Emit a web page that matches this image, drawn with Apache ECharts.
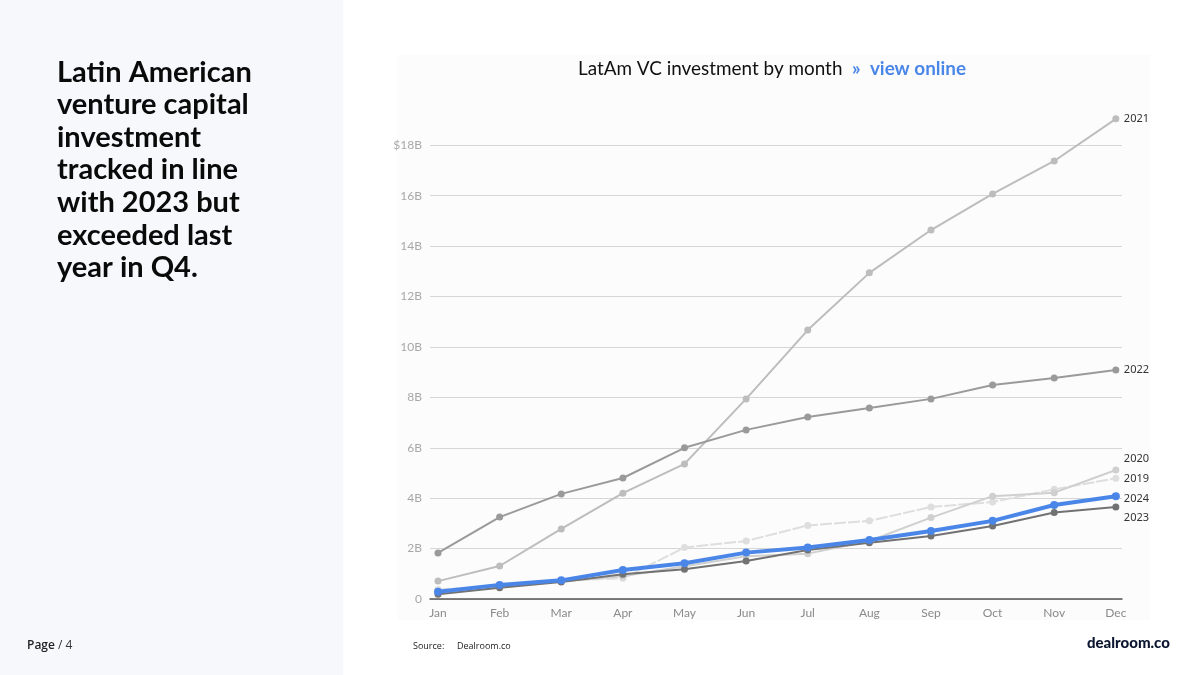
<!DOCTYPE html>
<html>
<head>
<meta charset="utf-8">
<script src="https://cdn.jsdelivr.net/npm/echarts@6/dist/echarts.min.js"></script>
<style>
html,body{margin:0;padding:0;background:#fff;}
#chart{width:1200px;height:675px;}
</style>
</head>
<body>
<div id="chart"></div>
<script>
const months = ['Jan','Feb','Mar','Apr','May','Jun','Jul','Aug','Sep','Oct','Nov','Dec'];
const yTicks = [0,2,4,6,8,10,12,14,16,18];
const v2019 = [0.38,0.50,0.72,0.82,2.04,2.30,2.92,3.10,3.65,3.85,4.35,4.79];
const v2020 = [0.30,0.50,0.70,0.90,1.30,1.70,1.80,2.30,3.23,4.08,4.22,5.12];
const v2021 = [0.71,1.31,2.78,4.20,5.36,7.94,10.67,12.94,14.64,16.07,17.38,19.05];
const v2022 = [1.83,3.25,4.17,4.80,6.00,6.71,7.22,7.58,7.94,8.49,8.77,9.09];
const v2023 = [0.19,0.45,0.67,0.98,1.18,1.51,1.94,2.23,2.50,2.90,3.43,3.65];
const v2024 = [0.29,0.56,0.74,1.15,1.42,1.84,2.04,2.34,2.70,3.10,3.73,4.08];
const headline = ['Latin American','venture capital','investment','tracked in line','with 2023 but','exceeded last','year in Q4.'];

const pts = arr => arr.map((v,i)=>[i,v]);
const axisFont = 'Lato, sans-serif';

function mk(name, data, color, width, sym, z, offset, dash){
  return {
    name, type:'line', data: pts(data), z,
    symbol:'circle', symbolSize: sym,
    itemStyle:{color},
    lineStyle:{color, width, type: dash || 'solid'},
    emphasis:{disabled:true},
    endLabel:{show:true, formatter:'{a}', color:'#333', fontSize:11, fontFamily:'"Noto Sans", sans-serif', distance:8, offset: offset || [0,0]}
  };
}

const chart = echarts.init(document.getElementById('chart'), null, {renderer:'canvas'});
chart.setOption({
  animation:false,
  backgroundColor:'#ffffff',
  graphic:[
    {type:'rect', shape:{x:0,y:0,width:343,height:675}, style:{fill:'#f7f8fc'}, z:-10},
    {type:'rect', shape:{x:398,y:55,width:752,height:565}, style:{fill:'#fcfcfc'}, z:-10},
    {type:'text', left:57, top:56, style:{text: headline.join('\n'), font:'bold 29px Lato, sans-serif', lineHeight:32.6, fill:'#0a0a0a'}},
    {type:'text', x:27, y:640, style:{text:'{b|Page} / 4', rich:{b:{fontWeight:600, fontSize:12, fill:'#222', fontFamily:'"Open Sans", sans-serif'}}, fontSize:12, fill:'#333', fontFamily:'"Open Sans", sans-serif'}},
    {type:'text', x:413, y:642, style:{text:'Source:', fontSize:9, fill:'#222', fontFamily:'"Open Sans", sans-serif'}},
    {type:'text', x:457, y:642, style:{text:'Dealroom.co', fontSize:9, fill:'#222', fontFamily:'"Open Sans", sans-serif'}},
    {type:'text', x:1087, y:636, style:{text:'dealroom.co', font:'900 15px Lato, sans-serif', fill:'#0c1630'}},
    {type:'text', x:578, y:59, style:{text:'LatAm VC investment by month  {l|»  view online}', font:'18.9px Lato, sans-serif', fill:'#111', rich:{l:{font:'bold 18.9px Lato, sans-serif', fill:'#4a86e8'}}}}
  ],
  grid:{left:430, right:78, top:105, bottom:76, containLabel:false},
  xAxis:{
    type:'value', min:-0.13, max:11.1,
    axisLine:{show:true, lineStyle:{color:'#555', width:1.5}},
    axisTick:{show:false},
    splitLine:{show:false},
    axisLabel:{customValues:[0,1,2,3,4,5,6,7,8,9,10,11], formatter:v=>months[Math.round(v)], color:'#8a8a8a', fontSize:12, fontFamily:axisFont, margin:8}
  },
  yAxis:{
    type:'value', min:0, max:19.6, interval:2,
    axisLine:{show:false}, axisTick:{show:false},
    splitLine:{show:true, showMaxLine:false, lineStyle:{color:'#d6d6d6', width:1}},
    axisLabel:{showMaxLabel:false, formatter:v=> v===0?'0':(v===18?'$18B':v+'B'), color:'#a8a8a8', fontSize:12, fontFamily:axisFont, margin:8}
  },
  series:[
    mk('2019', v2019, '#dedede', 2, 7, 2, [0,1], [12,2]),
    mk('2020', v2020, '#cfcfcf', 2, 7, 3, [0,-11]),
    mk('2021', v2021, '#bdbdbd', 2, 7, 4, [0,0]),
    mk('2022', v2022, '#9a9a9a', 2, 7, 5, [0,0]),
    mk('2023', v2023, '#727272', 2, 7, 6, [0,11]),
    mk('2024', v2024, '#4a86e8', 4, 8, 7, [0,3])
  ]
});
</script>
</body>
</html>
